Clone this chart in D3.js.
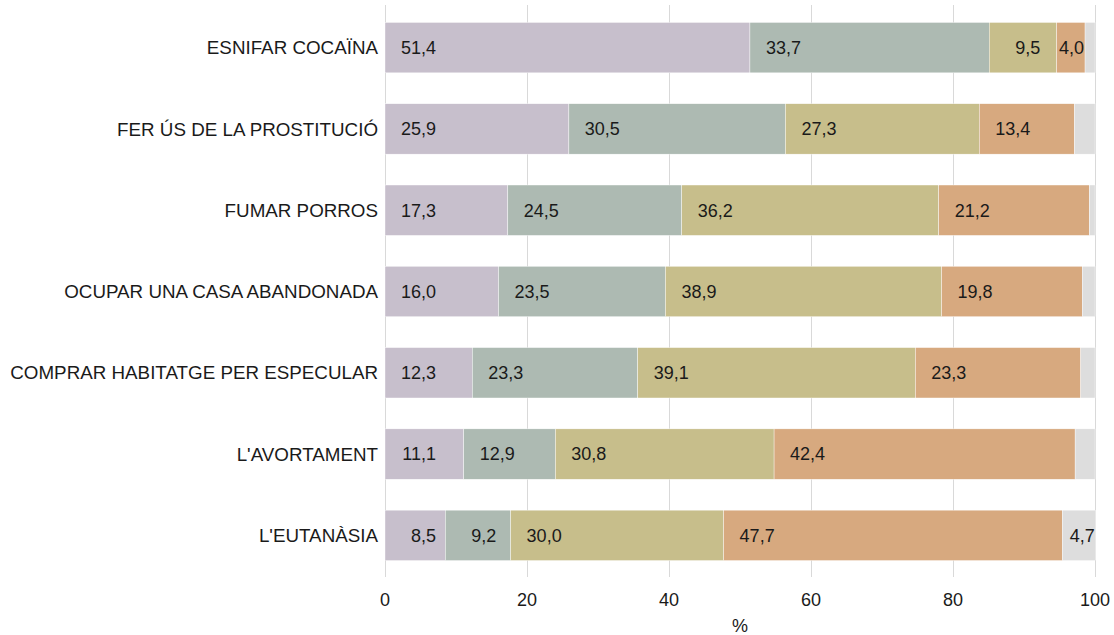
<!DOCTYPE html>
<html lang="ca">
<head>
    <meta charset="UTF-8">
    <title>Barres apilades</title>
    <script src="https://cdn.jsdelivr.net/npm/d3@7"></script>
    <style>
        body { margin: 0; background: #fff; }
        text { font-family: "Liberation Sans", Arial, sans-serif; fill: #1a1a1a; }
    </style>
</head>
<body>
<div id="chart"></div>
<script>
    // dades
    var categories = ["ESNIFAR COCAÏNA", "FER ÚS DE LA PROSTITUCIÓ", "FUMAR PORROS",
        "OCUPAR UNA CASA ABANDONADA", "COMPRAR HABITATGE PER ESPECULAR", "L'AVORTAMENT", "L'EUTANÀSIA"];
    var serie1 = [51.4, 25.9, 17.3, 16.0, 12.3, 11.1, 8.5];
    var serie2 = [33.7, 30.5, 24.5, 23.5, 23.3, 12.9, 9.2];
    var serie3 = [9.5, 27.3, 36.2, 38.9, 39.1, 30.8, 30.0];
    var serie4 = [4.0, 13.4, 21.2, 19.8, 23.3, 42.4, 47.7];
    var serie5 = [1.4, 2.9, 0.8, 1.8, 2.0, 2.8, 4.7];
    var xTicks = [0, 20, 40, 60, 80, 100];

    var keys = ["s1", "s2", "s3", "s4", "s5"];
    var colors = ["#c7bfcc", "#adbab2", "#c7be8b", "#d7a97f", "#dddddd"];

    var table = categories.map(function (c, i) {
        return {cat: c, s1: serie1[i], s2: serie2[i], s3: serie3[i], s4: serie4[i], s5: serie5[i]};
    });

    var width = 1114, height = 635;
    var x = d3.scaleLinear().domain([0, 100]).range([385, 1095]);
    var y = d3.scaleBand().domain(categories).range([7, 576])
        .paddingInner(0.38).paddingOuter(0.19);
    var color = d3.scaleOrdinal().domain(keys).range(colors);

    var svg = d3.select("#chart").append("svg")
        .attr("width", width)
        .attr("height", height);

    // graella vertical
    svg.append("g").selectAll("line")
        .data(xTicks)
        .enter().append("line")
        .attr("x1", function (d) { return x(d) + 0.5; })
        .attr("x2", function (d) { return x(d) + 0.5; })
        .attr("y1", 5)
        .attr("y2", 577)
        .style("stroke", "#d9d9d9")
        .style("stroke-width", 1);

    var stacked = d3.stack().keys(keys)(table);

    var layer = svg.append("g").selectAll("g")
        .data(stacked)
        .enter().append("g")
        .style("fill", function (d) { return color(d.key); });

    layer.selectAll("rect")
        .data(function (d) { return d; })
        .enter().append("rect")
        .attr("x", function (d) { return x(d[0]); })
        .attr("y", function (d) { return y(d.data.cat); })
        .attr("width", function (d) { return x(d[1]) - x(d[0]); })
        .attr("height", y.bandwidth())
        .style("stroke", "#fff")
        .style("stroke-width", 0.4);

    // etiquetes de valor
    var fmt = function (v) { return v.toFixed(1).replace(".", ","); };
    layer.selectAll("text")
        .data(function (d) { return d.filter(function (p) { return p[1] - p[0] >= 3; }); })
        .enter().append("text")
        .attr("x", function (d) { return Math.min(x(d[0]) + 51, x(d[1]) - 1); })
        .attr("y", function (d) { return y(d.data.cat) + y.bandwidth() / 2; })
        .attr("dy", ".35em")
        .attr("text-anchor", "end")
        .style("font-size", "18px")
        .style("fill", "#1a1a1a")
        .text(function (d) { return fmt(d[1] - d[0]); });

    // categories
    svg.append("g").selectAll("text")
        .data(categories)
        .enter().append("text")
        .attr("x", 378)
        .attr("y", function (d) { return y(d) + y.bandwidth() / 2; })
        .attr("dy", ".35em")
        .attr("text-anchor", "end")
        .style("font-size", "18.8px")
        .text(function (d) { return d; });

    // eix x
    svg.append("g").selectAll("text")
        .data(xTicks)
        .enter().append("text")
        .attr("x", function (d) { return x(d); })
        .attr("y", 600)
        .attr("dy", ".35em")
        .attr("text-anchor", "middle")
        .style("font-size", "18px")
        .text(function (d) { return d; });

    svg.append("text")
        .attr("x", x(50))
        .attr("y", 626)
        .attr("dy", ".35em")
        .attr("text-anchor", "middle")
        .style("font-size", "18px")
        .text("%");
</script>
</body>
</html>
